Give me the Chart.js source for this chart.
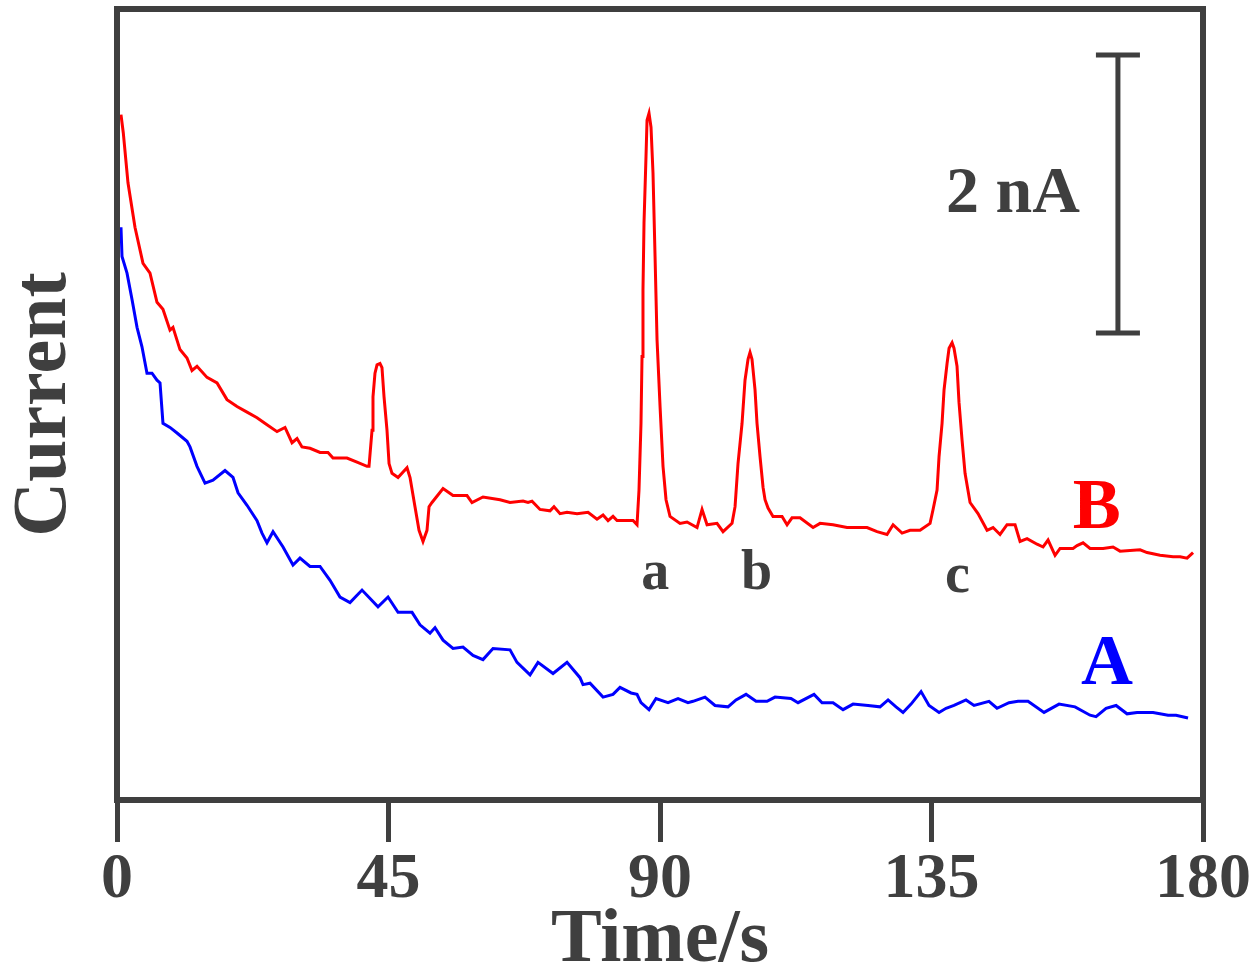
<!DOCTYPE html>
<html>
<head>
<meta charset="utf-8">
<script src="https://cdn.jsdelivr.net/npm/chart.js@4/dist/chart.umd.min.js"></script>
<style>
  html, body { margin: 0; background: #fff; }
  canvas { display: block; }
</style>
</head>
<body>
<canvas id="chart" width="1259" height="976"></canvas>
<script>
// time axis
const xTicks = [0, 45, 90, 135, 180];

// trace B (red) - time in s, current in nA
const timeB = [0.66,1.04,1.82,2.98,4.31,5.47,6.63,7.62,8.78,9.28,
  10.44,11.60,12.43,13.26,14.92,16.58,18.23,19.89,21.55,23.21,
  24.86,26.52,27.85,29.01,29.84,30.66,31.99,33.65,34.97,35.80,
  38.12,39.78,41.44,
  41.77,42.27,42.43,42.76,43.10,43.59,43.92,44.26,44.75,45.09,45.58,
  46.58,48.07,48.57,49.39,50.06,50.72,51.38,51.72,52.21,
  54.04,55.69,58.01,58.84,60.66,63.48,65.14,67.30,68.12,68.79,
  70.11,71.77,72.43,73.43,74.59,76.25,78.07,79.56,80.56,81.39,
  82.21,82.88,85.53,86.19,
  86.52,86.85,87.02,87.18,87.35,87.68,87.85,88.18,88.51,88.84,
  89.18,89.51,90.01,90.50,91.00,91.66,
  93.32,94.48,96.14,96.97,97.80,99.45,100.45,101.94,
  102.44,102.93,103.60,104.09,104.59,104.92,105.25,105.75,106.08,106.58,
  107.08,107.41,107.91,
  108.73,110.23,111.06,111.88,113.21,115.37,116.53,118.68,121.00,124.32,
  125.97,127.63,128.63,130.12,131.44,133.10,134.76,
  135.26,135.92,136.25,136.75,137.08,137.58,137.91,138.41,138.73,139.23,
  139.56,140.06,140.56,141.39,
  142.71,144.21,145.20,146.36,147.52,148.85,149.68,150.84,152.50,153.49,
  154.32,155.48,156.31,158.46,159.13,160.12,161.28,163.44,165.09,166.25,
  169.57,170.73,172.88,175.04,176.20,177.36,178.35];
const currentB = [4.93,4.80,4.44,4.12,3.86,3.79,3.58,3.53,3.38,3.40,
  3.24,3.18,3.09,3.12,3.04,3.00,2.88,2.83,2.79,2.75,
  2.70,2.65,2.68,2.57,2.60,2.54,2.53,2.50,2.50,2.46,
  2.46,2.43,2.40,
  2.40,2.66,2.90,3.07,3.13,3.14,3.11,2.90,2.66,2.42,2.35,
  2.32,2.39,2.32,2.11,1.94,1.86,1.94,2.11,2.14,
  2.24,2.19,2.19,2.14,2.18,2.16,2.14,2.15,2.14,2.15,
  2.09,2.08,2.11,2.06,2.07,2.06,2.07,2.02,2.05,2.01,
  2.04,2.01,2.01,1.98,
  2.23,2.71,3.19,3.67,4.15,4.63,4.89,4.94,4.84,4.51,
  3.91,3.31,2.83,2.40,2.16,2.04,
  1.99,2.00,1.96,2.09,1.98,1.99,1.93,1.99,
  2.11,2.42,2.71,3.02,3.17,3.22,3.17,2.95,2.71,2.47,
  2.25,2.16,2.10,
  2.04,2.04,1.98,2.03,2.03,1.96,1.99,1.98,1.96,1.96,
  1.93,1.91,1.98,1.92,1.94,1.94,1.99,
  2.09,2.23,2.47,2.71,2.95,3.14,3.25,3.29,3.25,3.12,
  2.86,2.59,2.35,2.14,
  2.06,1.94,1.96,1.91,1.98,1.98,1.86,1.88,1.84,1.82,
  1.87,1.76,1.81,1.81,1.83,1.85,1.81,1.81,1.82,1.79,
  1.80,1.78,1.76,1.75,1.75,1.74,1.78];

// trace A (blue)
const timeA = [0.66,0.83,1.66,2.49,3.32,4.14,4.97,5.80,6.63,7.13,
  7.62,8.78,9.95,11.60,12.10,13.26,14.59,15.91,17.90,19.23,
  20.06,21.55,23.21,24.03,24.86,25.86,27.52,29.17,30.33,31.99,
  33.65,35.31,36.96,38.62,40.61,43.26,44.92,46.58,48.90,50.22,
  51.88,52.71,54.04,55.69,57.35,59.01,60.66,62.32,65.14,66.30,
  68.46,69.78,72.27,74.59,76.74,77.24,78.40,80.56,82.21,83.37,
  85.20,86.19,86.85,88.18,89.34,91.33,92.99,94.64,95.47,97.46,
  99.12,101.27,102.60,104.26,105.92,107.74,109.06,111.71,112.88,115.53,
  116.86,118.68,120.34,122.00,124.48,126.47,127.80,129.12,130.28,131.61,
  133.27,134.59,136.25,137.41,138.73,140.72,142.05,144.53,145.86,147.85,
  149.34,151.00,153.65,156.14,158.79,161.28,162.27,163.93,165.59,167.41,
  169.07,171.72,174.21,175.53,177.52];
const currentA = [4.12,3.91,3.79,3.60,3.40,3.26,3.07,3.07,3.02,3.00,
  2.71,2.68,2.64,2.58,2.54,2.40,2.28,2.30,2.37,2.32,
  2.21,2.12,2.01,1.92,1.85,1.93,1.82,1.69,1.74,1.68,
  1.68,1.58,1.46,1.42,1.51,1.39,1.46,1.35,1.35,1.26,
  1.20,1.24,1.15,1.09,1.10,1.04,1.01,1.09,1.08,0.99,
  0.90,0.99,0.91,0.99,0.88,0.83,0.84,0.74,0.76,0.81,
  0.77,0.76,0.70,0.65,0.73,0.70,0.73,0.70,0.71,0.74,
  0.68,0.67,0.72,0.76,0.71,0.71,0.74,0.73,0.70,0.76,
  0.70,0.70,0.65,0.69,0.68,0.67,0.72,0.67,0.63,0.69,
  0.78,0.68,0.63,0.66,0.68,0.72,0.68,0.71,0.66,0.70,
  0.71,0.71,0.63,0.69,0.67,0.61,0.60,0.66,0.68,0.62,
  0.63,0.63,0.61,0.61,0.59];

// peak letters under trace B
const peakNames = ['a', 'b', 'c'];
const peakLabelTime = [89.2, 106.0, 139.3];
const peakLabelCurrent = [1.62, 1.62, 1.60];

// trace names
const traceNames = ['A', 'B'];
const traceNameTime = [164.1, 162.4];
const traceNameCurrent = [0.97, 2.09];
const traceColors = ['#0000ff', '#ff0000'];

// 2 nA scale bar
const barSpan = 2;
const barTime = 165.9;
const barFrom = 3.36;
const barLabelTime = 148.5;
const barLabelCurrent = 4.35;

const serif = "'Liberation Serif', 'DejaVu Serif', 'Times New Roman', serif";
const ink = '#3f3f3f';

const toPoints = (ts, vs) => ts.map((t, i) => ({ x: t, y: vs[i] }));

const overlay = {
  id: 'overlay',
  afterDatasetsDraw(chart) {
    const { ctx, chartArea: a, scales: { x, y } } = chart;
    ctx.save();
    // frame
    ctx.strokeStyle = ink;
    ctx.lineWidth = 6;
    ctx.strokeRect(a.left, a.top, a.right - a.left, a.bottom - a.top);

    // scale bar
    const bx = x.getPixelForValue(barTime);
    const y0 = y.getPixelForValue(barFrom);
    const y1 = y.getPixelForValue(barFrom + barSpan);
    ctx.lineWidth = 5;
    ctx.beginPath();
    ctx.moveTo(bx, y0); ctx.lineTo(bx, y1);
    ctx.moveTo(bx - 22, y0); ctx.lineTo(bx + 22, y0);
    ctx.moveTo(bx - 22, y1); ctx.lineTo(bx + 22, y1);
    ctx.stroke();

    ctx.textAlign = 'center';
    ctx.textBaseline = 'middle';
    ctx.fillStyle = ink;
    ctx.font = `bold 66px ${serif}`;
    ctx.fillText(barSpan + ' nA', x.getPixelForValue(barLabelTime), y.getPixelForValue(barLabelCurrent));

    ctx.font = `bold 56px ${serif}`;
    peakNames.forEach((n, i) => {
      ctx.fillText(n, x.getPixelForValue(peakLabelTime[i]), y.getPixelForValue(peakLabelCurrent[i]));
    });

    ctx.font = `bold 72px ${serif}`;
    traceNames.forEach((n, i) => {
      ctx.fillStyle = traceColors[i];
      ctx.fillText(n, x.getPixelForValue(traceNameTime[i]), y.getPixelForValue(traceNameCurrent[i]));
    });
    ctx.restore();
  }
};

new Chart(document.getElementById('chart'), {
  type: 'line',
  data: {
    datasets: [
      { label: 'B', data: toPoints(timeB, currentB), borderColor: '#ff0000', borderWidth: 3 },
      { label: 'A', data: toPoints(timeA, currentA), borderColor: '#0000ff', borderWidth: 3 }
    ]
  },
  options: {
    responsive: false,
    animation: false,
    events: [],
    elements: { point: { radius: 0 }, line: { tension: 0 } },
    layout: { padding: { top: 9, right: 56, left: 0, bottom: 0 } },
    plugins: { legend: { display: false }, tooltip: { enabled: false } },
    scales: {
      x: {
        type: 'linear',
        min: 0,
        max: 180,
        afterBuildTicks: s => { s.ticks = xTicks.map(v => ({ value: v })); },
        afterFit: s => { s.height = 176; },
        border: { display: false },
        grid: { drawOnChartArea: false, drawTicks: true, tickLength: 42, tickWidth: 5, tickColor: ink },
        ticks: {
          autoSkip: false, maxRotation: 0, padding: 0, color: ink,
          font: { family: serif, size: 64, weight: 'bold', lineHeight: 1.2 }
        },
        title: {
          display: true, text: 'Time/s', color: ink, padding: 0,
          font: { family: serif, size: 76, weight: 'bold', lineHeight: 0.9 }
        }
      },
      y: {
        min: 0,
        max: 5.69,
        afterFit: s => { s.width = 117; },
        border: { display: false },
        grid: { display: false },
        ticks: { display: false },
        title: {
          display: true, text: 'Current', color: ink, padding: 0,
          font: { family: serif, size: 76, weight: 'bold', lineHeight: 1.2 }
        }
      }
    }
  },
  plugins: [overlay]
});
</script>
</body>
</html>
